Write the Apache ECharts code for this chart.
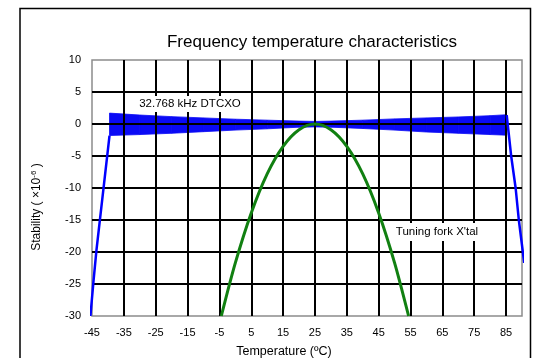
<!DOCTYPE html>
<html>
<head>
<meta charset="utf-8">
<script src="https://cdn.jsdelivr.net/npm/echarts@6/dist/echarts.min.js"></script>
<style>
  html, body { margin: 0; padding: 0; background: #fff; }
  #chart { width: 534px; height: 358px; }
</style>
</head>
<body>
<div id="chart"></div>
<script>
// DTCXO band: envelope of the dense ripple
const bandTemp = [-39.5, -30, -20, -10, 0, 10, 20, 25, 30, 40, 50, 60, 70, 80, 85.2];
const bandTop = [1.7, 1.4, 1.15, 0.95, 0.75, 0.6, 0.45, 0.4, 0.45, 0.6, 0.8, 0.95, 1.1, 1.3, 1.45];
const bandBottom = [-1.8, -1.65, -1.45, -1.2, -0.95, -0.75, -0.5, -0.45, -0.5, -0.7, -0.95, -1.25, -1.45, -1.65, -1.75];

// DTCXO roll-off outside the compensated range
const dtcxoLeft = [[-45.5, -30], [-44.5, -24.4], [-43.6, -19.7], [-39.5, -1.8]];
const dtcxoRight = [[85.2, 1.4], [86.6, -5], [88, -10], [89, -15], [90.7, -21.7]];

// tuning fork crystal
const forkTemp = [-4.4, 0, 5, 10, 15, 20, 25, 30, 35, 40, 45, 50, 54.4];
const forkStab = [-30, -21.7, -13.9, -7.8, -3.5, -0.9, 0, -0.9, -3.5, -7.8, -13.9, -21.7, -30];

const FONT = '"Liberation Sans", Arial, sans-serif';

const chart = echarts.init(document.getElementById('chart'), null, { renderer: 'canvas' });

chart.setOption({
  backgroundColor: '#fff',
  animation: false,
  title: {
    text: 'Frequency temperature characteristics',
    left: 307, top: 29, textAlign: 'center',
    textStyle: { fontFamily: FONT, fontSize: 17, fontWeight: 'normal', color: '#000' }
  },
  grid: {
    left: 92, right: 12, top: 60, bottom: 42,
    show: true, borderColor: '#8c8c8c', borderWidth: 1.5, backgroundColor: 'transparent'
  },
  xAxis: {
    type: 'value', min: -45, max: 90, interval: 10, z: 3,
    axisLine: { show: false }, axisTick: { show: false },
    axisLabel: { showMaxLabel: false, margin: 11, color: '#000', fontFamily: FONT, fontSize: 11 },
    splitLine: { show: true, showMinLine: false, showMaxLine: false, lineStyle: { color: '#000', width: 2 } }
  },
  yAxis: {
    type: 'value', min: -30, max: 10, interval: 5, z: 3,
    axisLine: { show: false }, axisTick: { show: false },
    axisLabel: { margin: 11, color: '#000', fontFamily: FONT, fontSize: 11 },
    splitLine: { show: true, showMinLine: false, showMaxLine: false, lineStyle: { color: '#000', width: 2 } }
  },
  graphic: [
    {
      type: 'rect', z: 0, silent: true,
      shape: { x: 20, y: 8.5, width: 510.5, height: 360 },
      style: { fill: 'none', stroke: '#000', lineWidth: 1.5 }
    },
    {
      type: 'text', x: 37, y: 207, rotation: Math.PI / 2, z: 10,
      style: {
        text: '{a|Stability ( ×10}{s|-6}{a| )}',
        align: 'center', verticalAlign: 'middle',
        rich: {
          a: { fontFamily: FONT, fontSize: 12, color: '#000', lineHeight: 14 },
          s: { fontFamily: FONT, fontSize: 8, color: '#000', verticalAlign: 'top', lineHeight: 14 }
        }
      }
    },
    {
      type: 'text', x: 284, y: 352, z: 10,
      style: { text: 'Temperature (ºC)', align: 'center', verticalAlign: 'middle', fontFamily: FONT, fontSize: 12.5, fill: '#000' }
    },
    {
      type: 'text', x: 190, y: 104, z: 10,
      style: {
        text: '32.768 kHz DTCXO', align: 'center', verticalAlign: 'middle',
        fontFamily: FONT, fontSize: 11.5, fill: '#000',
        backgroundColor: '#fff', padding: [2, 3]
      }
    },
    {
      type: 'text', x: 437, y: 232, z: 10,
      style: {
        text: "Tuning fork X'tal", align: 'center', verticalAlign: 'middle',
        fontFamily: FONT, fontSize: 11.5, fill: '#000',
        backgroundColor: '#fff', padding: [3, 3]
      }
    }
  ],
  series: [
    {
      type: 'custom', z: 2, silent: true, clip: false,
      data: bandTemp.map((t, i) => [t, bandTop[i], bandBottom[i]]),
      renderItem(params, api) {
        const i = params.dataIndex;
        if (i >= bandTemp.length - 1) return null;
        const pts = [
          api.coord([bandTemp[i], bandTop[i]]),
          api.coord([bandTemp[i + 1], bandTop[i + 1]]),
          api.coord([bandTemp[i + 1], bandBottom[i + 1]]),
          api.coord([bandTemp[i], bandBottom[i]])
        ];
        return {
          type: 'polygon',
          shape: { points: pts },
          style: { fill: '#0a0af5', stroke: '#0a0af5', lineWidth: 0.8 }
        };
      }
    },
    {
      type: 'line', z: 5, clip: false, symbol: 'none',
      data: dtcxoLeft,
      lineStyle: { color: '#0000ff', width: 2.5 }
    },
    {
      type: 'line', z: 5, clip: false, symbol: 'none',
      data: dtcxoRight,
      lineStyle: { color: '#0000ff', width: 2.5 }
    },
    {
      type: 'line', z: 5, clip: false, symbol: 'none', smooth: 0.3,
      data: forkTemp.map((t, i) => [t, forkStab[i]]),
      lineStyle: { color: '#118011', width: 3 }
    }
  ]
});
</script>
</body>
</html>
